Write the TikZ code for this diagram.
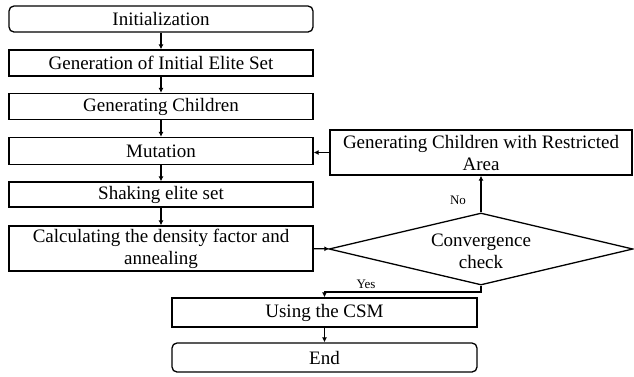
\documentclass[tikz,border=0pt]{standalone}
\usepackage{fontspec}
\setmainfont{Liberation Serif}
\usetikzlibrary{shapes.geometric,arrows.meta}
\begin{document}
\begin{tikzpicture}[x=1pt,y=-1pt,
  every node/.style={font=\fontsize{19}{22}\selectfont},
  box/.style={draw,line width=1.3pt,inner sep=0pt,align=center},
  rbox/.style={box,rounded corners=5pt},
  dia/.style={draw,line width=1.3pt,diamond,inner sep=0pt},
  arr/.style={line width=1.3pt,-{Latex[length=5pt,width=5pt]}},
  lbl/.style={font=\fontsize{13}{15}\selectfont,inner sep=0pt}]
\useasboundingbox (0,0) rectangle (634,376);
\node[rbox,minimum width=304pt,minimum height=26pt] (init) at (161,19) {Initialization};
\node[box,minimum width=304pt,minimum height=26pt] (gen) at (161,63) {Generation of Initial Elite Set};
\node[box,minimum width=304pt,minimum height=26pt] (child) at (161,106.5) {Generating Children};
\node[box,minimum width=304pt,minimum height=27pt] (mut) at (161,151) {Mutation};
\node[box,minimum width=304pt,minimum height=25pt] (shake) at (161,194.5) {Shaking elite set};
\node[box,minimum width=304pt,minimum height=45pt] (calc) at (161,248.5) {Calculating the density factor and\\annealing};
\node[box,minimum width=302pt,minimum height=45pt] (gcra) at (481,152.5) {Generating Children with Restricted\\Area};
\node[dia,minimum width=304pt,minimum height=72pt] (conv) at (481,249) {};
\node[align=center,inner sep=0pt] (convt) at (481,251) {Convergence\\check};
\node[box,minimum width=305pt,minimum height=29pt] (csm) at (324.5,312.5) {Using the CSM};
\node[rbox,minimum width=305pt,minimum height=29pt] (end) at (324.5,357.5) {End};
\draw[arr] (init) -- (gen);
\draw[arr] (gen) -- (child);
\draw[arr] (child) -- (mut);
\draw[arr] (mut) -- (shake);
\draw[arr] (shake) -- (calc);
\draw[arr] (calc) -- (conv);
\draw[arr] (conv.north) -- (gcra.south);
\node[lbl] (no) at (458,200) {No};
\draw[arr] (gcra.west) -- (mut.east |- gcra.west);
\coordinate (yb) at (481,292);
\draw[arr] (conv.south) -- (yb) -- (csm.north |- yb) -- (csm.north);
\node[lbl] (yes) at (366,284) {Yes};
\draw[arr] (csm) -- (end);
\end{tikzpicture}
\end{document}
